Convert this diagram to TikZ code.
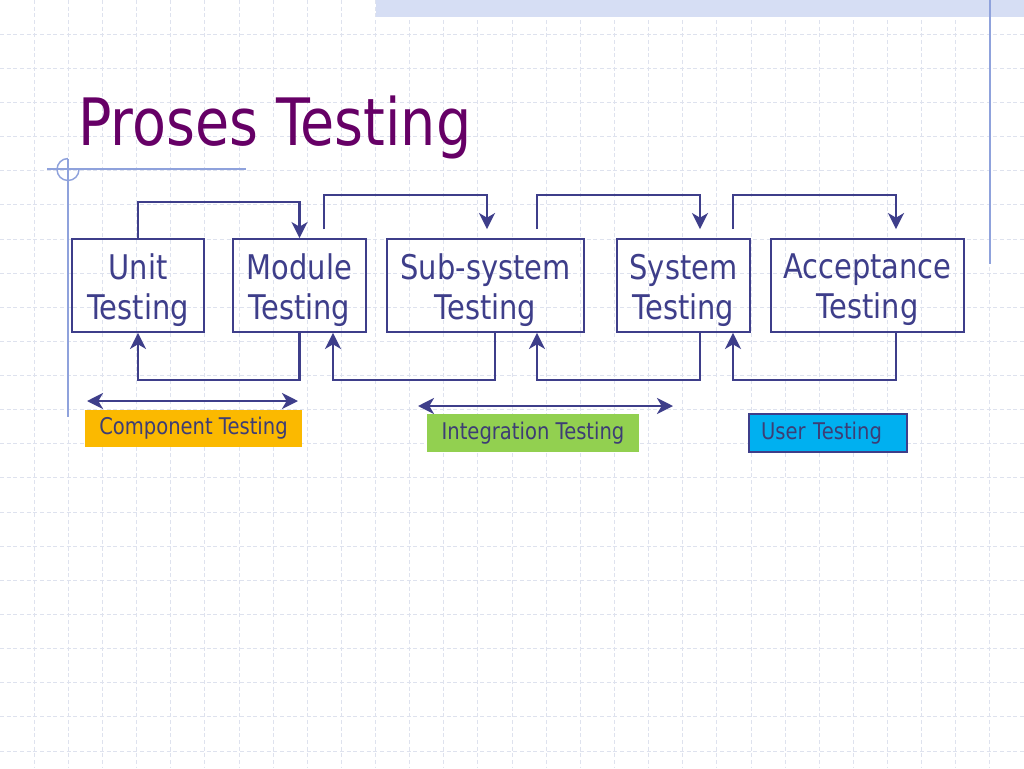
\documentclass[tikz,border=0pt]{standalone}
\usepackage{fontspec}
\setmainfont{DejaVu Sans}[FakeStretch=0.85]
\usetikzlibrary{arrows.meta,calc}
\definecolor{ttl}{HTML}{660066}
\definecolor{bx}{HTML}{3E3E8A}
\definecolor{gridc}{HTML}{DEE2EE}
\definecolor{deco}{HTML}{8FA2DC}
\definecolor{band}{HTML}{D6DEF4}
\definecolor{orng}{HTML}{FBB900}
\definecolor{grn}{HTML}{92D050}
\definecolor{sky}{HTML}{00B0F0}
\definecolor{lbl}{HTML}{3D3D75}
\tikzset{
  myhead/.tip={Stealth[length=12pt,width=12pt,inset=3.5pt]},
}
\begin{document}
\begin{tikzpicture}[x=0.75pt,y=-0.75pt,
  box/.style={draw=bx,line width=1.4pt,minimum height=69.75pt,inner sep=0pt},
  boxtxt/.style={text=bx,align=center,font=\fontsize{25.5pt}{30pt}\selectfont,inner sep=0pt},
  conn/.style={draw=bx,line width=2pt},
  onehead/.style={arrows={-myhead}},
  twohead/.style={arrows={myhead-myhead}},
  tag/.style={font=\fontsize{17.25pt}{20pt}\selectfont,text=lbl,inner sep=0pt,minimum height=28.5pt},
  gridline/.style={draw=gridc,line width=0.6pt,dash pattern=on 3pt off 2pt},
  decoline/.style={draw=deco,line width=1.1pt}
]
\useasboundingbox (0,0) rectangle (1024,768);
\fill[white] (0,0) rectangle (1024,768);
% grid
\foreach \i in {1,...,29} \draw[gridline] ({\i*34.133},0) -- ({\i*34.133},768);
\foreach \i in {1,...,22} \draw[gridline] (0,{\i*34.133}) -- (1024,{\i*34.133});
% decorations
\fill[band] (376,0) rectangle (1024,17);
\draw[decoline] (990,0) -- (990,264);
\draw[decoline] (47,169) -- (246,169);
\draw[decoline] (68,159) -- (68,417);
\draw[decoline] (68,158.5) arc[start angle=90,end angle=360,radius=8.25pt];
% title
\node[anchor=base west,text=ttl,font=\fontsize{49pt}{52pt}\selectfont,inner sep=0pt] (title) at (78,145) {Proses Testing};
% boxes
\node[box,minimum width=99pt] (unit) at (138,285.5) {};
\node[box,minimum width=99.75pt] (module) at (299.5,285.5) {};
\node[box,minimum width=147.75pt] (sub) at (485.5,285.5) {};
\node[box,minimum width=99.75pt] (system) at (683.5,285.5) {};
\node[box,minimum width=144.75pt] (acc) at (867.5,285.5) {};
\node[boxtxt] (unitT) at ([yshift=-3.4pt]unit.center) {Unit\\Testing};
\node[boxtxt] (moduleT) at ([yshift=-3.4pt]module.center) {Module\\Testing};
\node[boxtxt] (subT) at ([yshift=-3.4pt]sub.center) {Sub-system\\Testing};
\node[boxtxt] (systemT) at ([yshift=-3.4pt]system.center) {System\\Testing};
\node[boxtxt] (accT) at ([yshift=-3.4pt]acc.center) {Acceptance\\Testing};
% top connectors
\draw[conn,onehead] (unit.north) -- ++(0,-36) -| (module.north);
\draw[conn,onehead] ($(module.north)+(24.5,-9)$) -- ++(0,-34) -| ($(sub.north)+(1.5,-9)$);
\draw[conn,onehead] ($(sub.north)+(51.5,-9)$) -- ++(0,-34) -| ($(system.north)+(16.5,-9)$);
\draw[conn,onehead] ($(system.north)+(49.5,-9)$) -- ++(0,-34) -| ($(acc.north)+(28.5,-9)$);
% bottom connectors
\draw[conn,onehead] (module.south) -- ++(0,47) -| (unit.south);
\draw[conn,onehead] ($(sub.south)+(9.5,0)$) -- ++(0,47) -| ($(module.south)+(33.5,0)$);
\draw[conn,onehead] ($(system.south)+(16.5,0)$) -- ++(0,47) -| ($(sub.south)+(51.5,0)$);
\draw[conn,onehead] ($(acc.south)+(28.5,0)$) -- ++(0,47) -| ($(system.south)+(49.5,0)$);
% range arrows
\coordinate (c1) at (87,401);
\coordinate (c2) at (298,401);
\coordinate (i1) at (418,406);
\coordinate (i2) at (673,406);
\draw[conn,twohead] (c1) -- (c2);
\draw[conn,twohead] (i1) -- (i2);
% tags
\node[tag,fill=orng,minimum width=162.75pt,minimum height=27.75pt] (comp) at (193.5,428.5) {Component Testing};
\node[tag,fill=grn,minimum width=159pt] (integ) at (533,433) {Integration Testing};
\node[tag,fill=sky,draw=bx,line width=0.8pt,text width=100.5pt,inner xsep=9pt,align=left] (user) at (828,433) {User Testing};
\end{tikzpicture}
\end{document}
